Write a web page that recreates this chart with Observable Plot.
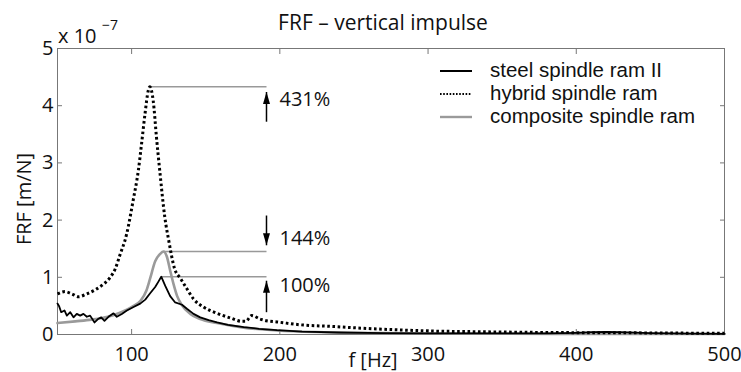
<!DOCTYPE html>
<html>
<head>
<meta charset="utf-8">
<script src="https://cdn.jsdelivr.net/npm/d3@7"></script>
<script src="https://cdn.jsdelivr.net/npm/@observablehq/plot@0.6"></script>
<style>
  html, body { margin: 0; padding: 0; background: #fff; }
  #chart svg { display: block; }
</style>
</head>
<body>
<div id="chart"></div>
<script>
// ---- data (values in units of 1e-7 m/N) ----
const steelF = [50, 51, 52.5, 54.7, 56.3, 58.6, 60.8, 63, 65.3, 67.5, 69.8, 72, 75, 77.3, 79.5, 81.7, 84.4, 87.8, 90, 93.4, 96.8, 101.3, 105.8, 109.2, 112.5, 115.9, 118, 120, 122.7, 126, 129.4, 134, 137.3, 141.8, 146.3, 152, 157.6, 165, 175.6, 186, 198, 215, 240, 270, 300, 340, 380, 400, 410, 420, 430, 450, 480, 500];
const steelV = [0.54, 0.50, 0.39, 0.42, 0.33, 0.39, 0.30, 0.36, 0.33, 0.36, 0.31, 0.33, 0.21, 0.27, 0.30, 0.24, 0.31, 0.37, 0.31, 0.36, 0.42, 0.48, 0.54, 0.61, 0.72, 0.83, 0.92, 1.01, 0.85, 0.67, 0.56, 0.52, 0.45, 0.36, 0.30, 0.25, 0.21, 0.17, 0.13, 0.10, 0.075, 0.05, 0.035, 0.025, 0.02, 0.018, 0.02, 0.03, 0.04, 0.045, 0.04, 0.025, 0.015, 0.012];

const hybridF = [50, 55, 59.7, 64.2, 69.8, 75.4, 81, 85.6, 89, 92, 96.7, 101, 104.5, 106.7, 109, 111.2, 112.3, 114.6, 116.8, 119, 122.4, 125, 129, 133, 137.3, 141.8, 148.5, 157.6, 166.5, 174.4, 177, 181, 186.8, 191, 198, 213.7, 236, 258.8, 281, 303.7, 330, 380, 430, 500];
const hybridV = [0.71, 0.75, 0.71, 0.66, 0.71, 0.78, 0.88, 1.0, 1.15, 1.38, 1.76, 2.34, 2.86, 3.33, 3.85, 4.26, 4.33, 4.08, 3.44, 2.86, 2.05, 1.65, 1.15, 0.98, 0.80, 0.62, 0.48, 0.37, 0.29, 0.23, 0.23, 0.33, 0.27, 0.24, 0.22, 0.17, 0.14, 0.105, 0.08, 0.06, 0.05, 0.035, 0.03, 0.02];

const compF = [50, 62, 73, 84, 93, 100, 106, 110, 112.5, 115.9, 119.3, 121.5, 123.8, 126, 128.3, 130.6, 134, 139.6, 146.3, 157.6, 175.6, 198, 230, 270, 320, 400, 500];
const compV = [0.20, 0.23, 0.26, 0.31, 0.39, 0.48, 0.59, 0.77, 0.98, 1.28, 1.41, 1.45, 1.36, 1.12, 0.88, 0.68, 0.51, 0.36, 0.27, 0.20, 0.12, 0.07, 0.04, 0.025, 0.015, 0.01, 0.008];

// annotations
const annLabels = ["431%", "144%", "100%"];
const annPeakF = [112.3, 121.5, 120];
const annPeakV = [4.33, 1.45, 1.01];
const annArrowF = [191, 191, 191];
const annArrowFrom = [3.72, 2.08, 0.39];
const annArrowTo = [4.24, 1.56, 0.94];
const annLabelV = [4.10, 1.67, 0.86];
const annDir = [0, 180, 0]; // arrow head rotation (up / down)

// axis ticks
const xTicks = [100, 200, 300, 400, 500];
const yTicks = [0, 1, 2, 3, 4, 5];

// legend
const seriesNames = ["steel spindle ram II", "hybrid spindle ram", "composite spindle ram"];

const FONT = "'Open Sans', 'DejaVu Sans', sans-serif";
const LEGEND_FONT = "'Liberation Sans', Arial, sans-serif";
const arrowHead = {
  draw(context) {
    context.moveTo(0, 0);
    context.lineTo(-3.5, 12);
    context.lineTo(3.5, 12);
    context.closePath();
  }
};

const idx3 = [0, 1, 2];

const chart = Plot.plot({
  width: 741,
  height: 372,
  marginLeft: 57,
  marginRight: 17,
  marginTop: 48,
  marginBottom: 38,
  x: {domain: [50, 500]},
  y: {domain: [0, 5]},
  style: {fontFamily: FONT, fontSize: "20px", color: "#111", background: "#fff"},
  marks: [
    Plot.axisX(xTicks, {tickSize: -5, tickPadding: 17, stroke: "#777", fill: "#111", fontSize: 20, tickFormat: d3.format("d"), label: null}),
    Plot.axisX(xTicks, {anchor: "top", tickSize: -5, tickFormat: () => "", stroke: "#777", label: null}),
    Plot.axisY(yTicks, {tickSize: -5, tickPadding: 9, stroke: "#777", fill: "#111", fontSize: 20, tickFormat: d3.format("d"), label: null}),
    Plot.axisY(yTicks, {anchor: "right", tickSize: -5, tickFormat: () => "", stroke: "#777", label: null}),
    Plot.frame({stroke: "#777", strokeWidth: 1}),
    // annotation horizontal lines
    Plot.link(idx3, {x1: annPeakF, x2: annArrowF, y1: annPeakV, y2: annPeakV, stroke: "#999", strokeWidth: 1.5}),
    // series
    Plot.line(compV, {x: compF, y: compV, stroke: "#9a9a9a", strokeWidth: 2.6, curve: "monotone-x"}),
    Plot.line(steelV, {x: steelF, y: steelV, stroke: "#000", strokeWidth: 1.8}),
    Plot.line(hybridV, {x: hybridF, y: hybridV, stroke: "#000", strokeWidth: 3, strokeDasharray: "2.6,2.6", strokeLinecap: "butt", strokeLinejoin: "miter", curve: "monotone-x"}),
    // arrows
    Plot.link(idx3, {x1: annArrowF, x2: annArrowF, y1: annArrowFrom, y2: annArrowTo, stroke: "#000", strokeWidth: 1.5}),
    Plot.dot(idx3, {x: annArrowF, y: annArrowTo, symbol: arrowHead, rotate: annDir, fill: "#000", stroke: "none"}),
    Plot.text(idx3, {x: annArrowF, y: annLabelV, text: annLabels, dx: 13, textAnchor: "start", fontSize: 20, fill: "#111"})
  ]
});

document.getElementById("chart").appendChild(chart);

// decorations: title, exponent, axis labels, legend
const svg = d3.select(chart);
const deco = svg.append("g").attr("font-family", FONT).attr("fill", "#111").attr("text-anchor", "start");
deco.append("text").attr("x", 383).attr("y", 30).attr("text-anchor", "middle").attr("font-size", 21).text("FRF – vertical impulse");
deco.append("text").attr("x", 58).attr("y", 43).attr("text-anchor", "start").attr("font-size", 20).text("x 10");
deco.append("text").attr("x", 102).attr("y", 30).attr("text-anchor", "start").attr("font-size", 14).text("−7");
deco.append("text").attr("transform", "translate(31,199) rotate(-90)").attr("text-anchor", "middle").attr("font-size", 20).text("FRF [m/N]");
deco.append("text").attr("x", 373).attr("y", 367).attr("text-anchor", "middle").attr("font-size", 20).text("f [Hz]");

const legendStyles = [
  {stroke: "#000", width: 2, dash: null},
  {stroke: "#000", width: 2, dash: "1.6,1.6"},
  {stroke: "#9a9a9a", width: 2.4, dash: null}
];
const legendBase = [77, 100, 123];
seriesNames.forEach((name, i) => {
  const st = legendStyles[i];
  const ln = deco.append("line")
    .attr("x1", 440).attr("x2", 472)
    .attr("y1", legendBase[i] - 6).attr("y2", legendBase[i] - 6)
    .attr("stroke", st.stroke).attr("stroke-width", st.width);
  if (st.dash) ln.attr("stroke-dasharray", st.dash);
  deco.append("text").attr("x", 490).attr("y", legendBase[i]).attr("text-anchor", "start")
    .attr("font-family", LEGEND_FONT).attr("font-size", 20.5).text(name);
});
</script>
</body>
</html>
